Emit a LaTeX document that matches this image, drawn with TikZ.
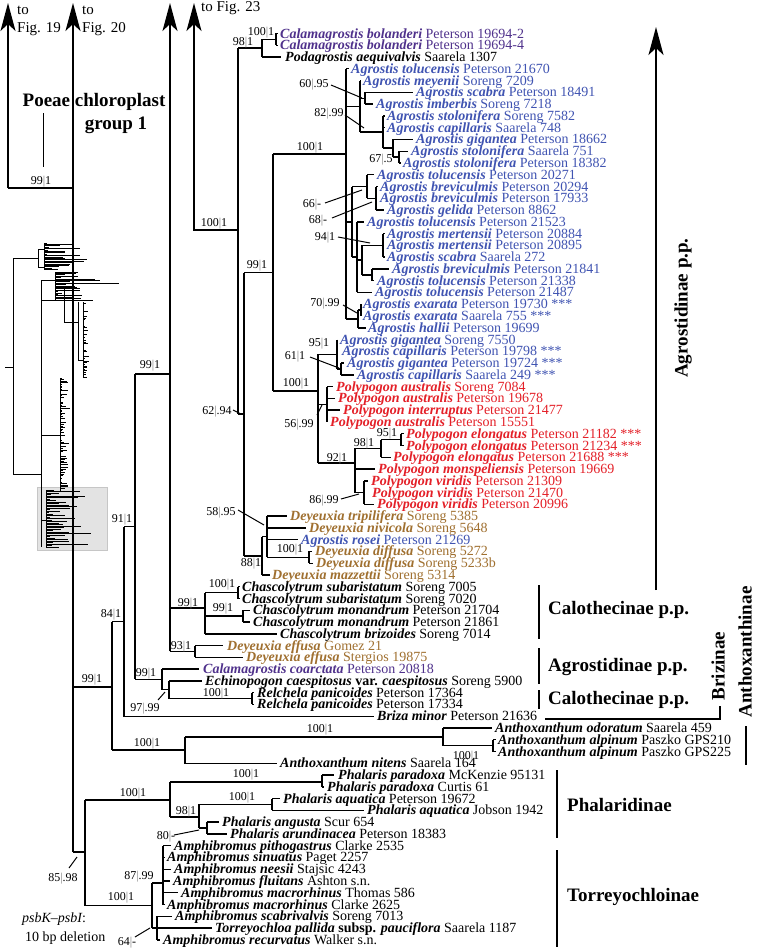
\documentclass[tikz,border=0pt]{standalone}
\usepackage{fontspec}
\setmainfont{Liberation Serif}
\usetikzlibrary{arrows.meta}
\definecolor{agr}{RGB}{64,84,178}
\definecolor{pol}{RGB}{228,32,40}
\definecolor{dey}{RGB}{160,112,48}
\definecolor{cal}{RGB}{80,50,140}
\tikzset{
 br/.style={line width=1.4pt},
 ptr/.style={line width=1pt},
 barline/.style={line width=2pt},
 arr/.style={-{Stealth[length=28pt,width=15pt,inset=7pt]}},
 leaf/.style={anchor=west,inner sep=0pt,text height=10pt,text depth=1pt,font=\fontsize{14}{14}\selectfont},
 sup/.style={inner sep=0pt,text height=8.5pt,text depth=0pt,font=\fontsize{12}{12}\selectfont},
 grp/.style={inner sep=0pt,font=\fontsize{19}{19}\selectfont\bfseries},
 fig/.style={anchor=west,inner sep=0pt,font=\fontsize{15}{15}\selectfont},
 th/.style={line width=0.7pt},
}
\newcommand{\gs}[1]{{\bfseries\itshape #1}}
\newcommand{\sv}[2]{#1\textcolor{gray}{|}#2}
\begin{document}
\begin{tikzpicture}[x=1pt,y=-1pt]
\useasboundingbox (0,0) rectangle (756,950);
\fill[white] (0,0) rectangle (756,950);
% ---------- thumbnail ----------
\fill[gray!22] (37,487) rectangle (107,550);
\draw[gray!45,line width=1pt] (37,487) rectangle (107,550);
\begin{scope}[th]
\pgfmathsetseed{3}
\draw (5,367)--(13,367) (13,258)--(13,474) (13,258)--(38,258) (38,249)--(38,267)
      (38,249)--(44,249) (38,267)--(44,267) (13,474)--(41,474) (41,280)--(41,547) (41,280)--(55,280);
\draw (44,243)--(44,270);
\foreach \y in {243,244.4,...,270}{\pgfmathsetmacro\l{2+44*rnd*rnd}\draw (44,\y)--++(\l,0);}
\draw (55,272)--(55,300) (55,283)--(119,283);
\foreach \y in {272,273.4,...,300}{\pgfmathsetmacro\l{3+50*rnd*rnd}\draw (55,\y)--++(\l,0);}
\draw (41,300)--(64,300) (64,286)--(64,322) (64,322)--(78,322) (78,302)--(78,360) (78,360)--(83,360);
\draw (83,302)--(83,378);
\foreach \y in {302,303.6,...,378}{\pgfmathsetmacro\l{1+12*rnd*rnd*rnd}\draw (83,\y)--++(\l,0);}
\draw (41,435)--(60,435) (60,378)--(60,492);
\foreach \y in {378,379.6,...,492}{\pgfmathsetmacro\l{1+12*rnd*rnd}\draw (60,\y)--++(\l,0);}
\draw (41,520)--(46,520) (46,490)--(46,548);
\foreach \y in {490,491.5,...,548}{\pgfmathsetmacro\l{3+55*rnd*rnd}\draw (46,\y)--++(\l,0);}
\end{scope}
% ---------- top labels ----------
\node[fig] (t19a) at (17,10) {to};
\node[fig] (t19b) at (17,29) {Fig. 19};
\node[fig] (t20a) at (82,10) {to};
\node[fig] (t20b) at (82,29) {Fig. 20};
\node[fig] (t23) at (201,8) {to Fig. 23};
\node[grp] (pc1) at (94,102) {Poeae chloroplast};
\node[grp] (pc2) at (116,125) {group 1};
\draw[ptr] (43,113)--(43,167);
% ---------- backbone ----------
\draw[br,arr] (8,188) -- (8,3);
\draw[br] (8,188) -- (73,188);
\draw[br,arr] (73,852) -- (73,3);
\draw[br] (73,852) -- (85,852);
\draw[br,arr] (170,651.4) -- (170,3);
\draw[br,arr] (238,230) -- (194,230) -- (194,3);
\draw[br,arr] (656,590) -- (656,27);
\draw[br] (135,374)--(170,374) (135,374)--(135,679.4) (124,526.7)--(135,526.7)
  (124,526.7)--(124,716.2)--(374,716.2) (112,621.6)--(124,621.6) (112,621.6)--(112,750)
  (73,686.8)--(112,686.8) (112,750)--(185,750);
% Anthoxanthum
\draw[br] (185,736.8)--(185,763.2)--(277,763.2) (185,736.8)--(443,736.8)
  (443,727.9)--(443,745.6) (443,727.9)--(492,727.9) (443,745.6)--(493,745.6)
  (493,739.7)--(493,751.5) (493,739.7)--(496,739.7) (493,751.5)--(496,751.5);
% Phalaris
\draw[br] (85,800)--(85,905.5) (85,800)--(170,800) (170,781.9)--(170,817)
  (170,781.9)--(322,781.9) (322,775)--(322,786.8) (322,775)--(334,775) (322,786.8)--(324,786.8)
  (170,817)--(199,817) (199,804.4)--(199,828) (199,804.4)--(272,804.4)
  (272,798.6)--(272,810.3) (272,798.6)--(280,798.6) (272,810.3)--(364,810.3)
  (199,828)--(207,828) (207,822.1)--(207,833.9) (207,822.1)--(219,822.1) (207,833.9)--(227,833.9);
% Torreyochloinae
\draw[br] (85,905.5)--(152,905.5) (152,883)--(152,928) (152,883)--(163,883) (163,845.6)--(163,904.5)
  (163,845.6)--(171,845.6) (163,857.4)--(165,857.4) (163,869.2)--(171,869.2) (163,880.9)--(170,880.9)
  (163,892.7)--(178,892.7) (163,904.5)--(165,904.5)
  (152,928)--(157,928) (157,916.3)--(157,939.8) (157,916.3)--(172,916.3) (157,928)--(212,928) (157,939.8)--(160,939.8);
% Chascolytrum etc.
\draw[br] (170,608)--(205,608) (205,592.6)--(205,633.8) (205,592.6)--(238,592.6) (238,586.7)--(238,598.5)
  (238,586.7)--(240,586.7) (238,598.5)--(240,598.5) (205,616.1)--(243,616.1) (243,610.2)--(243,622)
  (243,610.2)--(250,610.2) (243,622)--(250,622) (205,633.8)--(277,633.8)
  (170,651.4)--(195,651.4) (195,645.5)--(195,657.3) (195,645.5)--(223,645.5) (195,657.3)--(243,657.3);
\draw[br] (135,679.4)--(162,679.4) (162,669.1)--(162,689.7) (162,669.1)--(199,669.1) (162,689.7)--(169,689.7)
  (169,680.9)--(169,698.5) (169,680.9)--(202,680.9) (169,698.5)--(252,698.5) (252,692.6)--(252,704.4)
  (252,692.6)--(254,692.6) (252,704.4)--(254,704.4);
% X clade
\draw[br] (238,48.2)--(238,414) (238,48.2)--(262,48.2) (262,39.4)--(262,57) (262,39.4)--(276,39.4)
  (276,33.5)--(276,45.3) (276,33.5)--(278,33.5) (276,45.3)--(278,45.3) (262,57)--(281,57)
  (238,414)--(244,414) (244,272.5)--(244,556) (244,272.5)--(273,272.5) (273,154)--(273,391)
  (273,154)--(346,154) (273,391)--(318,391) (244,556)--(262,556);
% Deyeuxia
\draw[br] (262,536.7)--(262,574.9) (262,536.7)--(267,536.7) (267,516.1)--(267,557.3)
  (267,516.1)--(287,516.1) (267,527.8)--(306,527.8) (267,539.6)--(298,539.6) (267,557.3)--(309,557.3)
  (309,551.4)--(309,563.2) (309,551.4)--(312,551.4) (309,563.2)--(313,563.2) (262,574.9)--(270,574.9);
% Agrostis clade
\draw[br] (346,68.8)--(346,319) (346,68.8)--(349,68.8)
  (346,106.3)--(360,106.3) (360,80.6)--(360,132) (360,80.6)--(361,80.6) (360,98.2)--(365,98.2)
  (365,92.4)--(365,104.1) (365,92.4)--(413,92.4) (365,104.1)--(373,104.1)
  (360,132)--(383,132) (383,115.9)--(383,148.1) (383,115.9)--(385,115.9) (383,127.7)--(385,127.7)
  (383,148.1)--(393,148.1) (393,139.4)--(393,157.1) (393,139.4)--(413,139.4) (393,157.1)--(399,157.1)
  (399,151.2)--(399,163) (399,151.2)--(408,151.2) (399,163)--(401,163);
\draw[br] (346,221.8)--(352,221.8) (352,186.5)--(352,257.1) (352,186.5)--(367,186.5)
  (367,174.7)--(367,198.3) (367,174.7)--(374,174.7) (367,198.3)--(376,198.3)
  (376,186.5)--(376,210) (376,186.5)--(378,186.5) (376,210)--(384,210)
  (352,257.1)--(357,257.1) (357,221.8)--(357,292.4) (357,221.8)--(364,221.8) (357,260.1)--(362,260.1)
  (362,245.4)--(362,274.8) (362,245.4)--(383,245.4) (383,233.6)--(383,257.1) (383,233.6)--(385,233.6)
  (383,257.1)--(385,257.1) (362,274.8)--(372,274.8) (372,268.9)--(372,280.7) (372,268.9)--(389,268.9)
  (372,280.7)--(374,280.7) (357,292.4)--(372,292.4)
  (346,319)--(358,319) (358,310.1)--(358,327.8) (358,310.1)--(361,310.1) (361,304.2)--(361,316)
  (358,327.8)--(366,327.8);
% gigantea/capillaris + Polypogon
\draw[br] (318,354.2)--(318,463) (318,354.2)--(337,354.2) (337,339.5)--(337,369) (337,369)--(341,369)
  (341,363.1)--(341,374.8) (341,363.1)--(344,363.1) (341,374.8)--(354,374.8)
  (318,404.3)--(327,404.3) (327,386.6)--(327,421.9) (327,386.6)--(333,386.6) (327,398.4)--(335,398.4)
  (327,410.1)--(340,410.1)
  (318,463)--(355,463) (355,448.4)--(355,492.5) (355,448.4)--(381,448.4) (381,439.6)--(381,457.2)
  (381,439.6)--(401,439.6) (401,433.7)--(401,445.5) (401,433.7)--(404,433.7) (401,445.5)--(404,445.5)
  (381,457.2)--(391,457.2) (355,469)--(375,469) (355,492.5)--(364,492.5) (364,480.8)--(364,504.3)
  (364,480.8)--(368,480.8) (364,504.3)--(374,504.3);
% ---------- pointers ----------
\draw[ptr] (331,85)--(362,98) (345,115)--(364,128) (325,203)--(362,190) (332,218)--(372,202)
  (338,237)--(370,243) (343,305)--(357,313) (310,357)--(339,368) (317,415)--(322,405)
  (233,410)--(241,414) (341,499)--(359,494) (238,510)--(264,525) (158,700)--(165,692)
  (174,835)--(199,830) (69,868)--(77,857) (135,937)--(150,928);
% ---------- support values ----------
\node[sup] (s1) at (41,180) {\sv{99}{1}};
\node[sup] (s2) at (243,41) {\sv{98}{1}};
\node[sup] (s3) at (261,31) {\sv{100}{1}};
\node[sup] (s4) at (314,83) {\sv{60}{.95}};
\node[sup] (s5) at (329,112) {\sv{82}{.99}};
\node[sup] (s6) at (310,146) {\sv{100}{1}};
\node[sup] (s7) at (381,158) {\sv{67}{.5}};
\node[sup] (s8) at (214,222) {\sv{100}{1}};
\node[sup] (s9) at (312,203) {\sv{66}{-}};
\node[sup] (s10) at (318,219) {\sv{68}{-}};
\node[sup] (s11) at (325,236) {\sv{94}{1}};
\node[sup] (s12) at (257,264) {\sv{99}{1}};
\node[sup] (s13) at (325,302) {\sv{70}{.99}};
\node[sup] (s14) at (319,342) {\sv{95}{1}};
\node[sup] (s15) at (295,355) {\sv{61}{1}};
\node[sup] (s16) at (150,364) {\sv{99}{1}};
\node[sup] (s17) at (296,382) {\sv{100}{1}};
\node[sup] (s18) at (217,410) {\sv{62}{.94}};
\node[sup] (s19) at (299,423) {\sv{56}{.99}};
\node[sup] (s20) at (387,432) {\sv{95}{1}};
\node[sup] (s21) at (364,442) {\sv{98}{1}};
\node[sup] (s22) at (337,457) {\sv{92}{1}};
\node[sup] (s23) at (324,499) {\sv{86}{.99}};
\node[sup] (s24) at (221,511) {\sv{58}{.95}};
\node[sup] (s25) at (122,518) {\sv{91}{1}};
\node[sup] (s26) at (290,548) {\sv{100}{1}};
\node[sup] (s27) at (251,562) {\sv{88}{1}};
\node[sup] (s28) at (222,583) {\sv{100}{1}};
\node[sup] (s29) at (188,602) {\sv{99}{1}};
\node[sup] (s30) at (223,607) {\sv{99}{1}};
\node[sup] (s31) at (111,613) {\sv{84}{1}};
\node[sup] (s32) at (181,645) {\sv{93}{1}};
\node[sup] (s33) at (146,672) {\sv{99}{1}};
\node[sup] (s34) at (92,678) {\sv{99}{1}};
\node[sup] (s35) at (216,692) {\sv{100}{1}};
\node[sup] (s36) at (145,707) {\sv{97}{.99}};
\node[sup] (s37) at (320,728) {\sv{100}{1}};
\node[sup] (s38) at (147,742) {\sv{100}{1}};
\node[sup] (s39) at (466,755) {\sv{100}{1}};
\node[sup] (s40) at (246,773) {\sv{100}{1}};
\node[sup] (s41) at (133,792) {\sv{100}{1}};
\node[sup] (s42) at (242,796) {\sv{100}{1}};
\node[sup] (s43) at (186,810) {\sv{98}{1}};
\node[sup] (s44) at (166,835) {\sv{80}{-}};
\node[sup] (s45) at (63,877) {\sv{85}{.98}};
\node[sup] (s46) at (139,875) {\sv{87}{.99}};
\node[sup] (s47) at (121,896) {\sv{100}{1}};
\node[sup] (s48) at (127,941) {\sv{64}{-}};
% ---------- leaves ----------
\node[leaf,text=cal] (l0) at (280,33.5) {\gs{Calamagrostis bolanderi} Peterson 19694-2};
\node[leaf,text=cal] (l1) at (280,45.3) {\gs{Calamagrostis bolanderi} Peterson 19694-4};
\node[leaf] (l2) at (285,57) {\gs{Podagrostis aequivalvis} Saarela 1307};
\node[leaf,text=agr] (l3) at (351,68.8) {\gs{Agrostis tolucensis} Peterson 21670};
\node[leaf,text=agr] (l4) at (363,80.6) {\gs{Agrostis meyenii} Soreng 7209};
\node[leaf,text=agr] (l5) at (416,92.4) {\gs{Agrostis scabra} Peterson 18491};
\node[leaf,text=agr] (l6) at (376,104.1) {\gs{Agrostis imberbis} Soreng 7218};
\node[leaf,text=agr] (l7) at (387,115.9) {\gs{Agrostis stolonifera} Soreng 7582};
\node[leaf,text=agr] (l8) at (387,127.7) {\gs{Agrostis capillaris} Saarela 748};
\node[leaf,text=agr] (l9) at (416,139.4) {\gs{Agrostis gigantea} Peterson 18662};
\node[leaf,text=agr] (l10) at (411,151.2) {\gs{Agrostis stolonifera} Saarela 751};
\node[leaf,text=agr] (l11) at (403,163) {\gs{Agrostis stolonifera} Peterson 18382};
\node[leaf,text=agr] (l12) at (377,174.7) {\gs{Agrostis tolucensis} Peterson 20271};
\node[leaf,text=agr] (l13) at (380,186.5) {\gs{Agrostis breviculmis} Peterson 20294};
\node[leaf,text=agr] (l14) at (380,198.3) {\gs{Agrostis breviculmis} Peterson 17933};
\node[leaf,text=agr] (l15) at (387,210) {\gs{Agrostis gelida} Peterson 8862};
\node[leaf,text=agr] (l16) at (367,221.8) {\gs{Agrostis tolucensis} Peterson 21523};
\node[leaf,text=agr] (l17) at (387,233.6) {\gs{Agrostis mertensii} Peterson 20884};
\node[leaf,text=agr] (l18) at (387,245.4) {\gs{Agrostis mertensii} Peterson 20895};
\node[leaf,text=agr] (l19) at (387,257.1) {\gs{Agrostis scabra} Saarela 272};
\node[leaf,text=agr] (l20) at (392,268.9) {\gs{Agrostis breviculmis} Peterson 21841};
\node[leaf,text=agr] (l21) at (377,280.7) {\gs{Agrostis tolucensis} Peterson 21338};
\node[leaf,text=agr] (l22) at (375,292.4) {\gs{Agrostis tolucensis} Peterson 21487};
\node[leaf,text=agr] (l23) at (363,304.2) {\gs{Agrostis exarata} Peterson 19730 ***};
\node[leaf,text=agr] (l24) at (363,316) {\gs{Agrostis exarata} Saarela 755 ***};
\node[leaf,text=agr] (l25) at (368,327.8) {\gs{Agrostis hallii} Peterson 19699};
\node[leaf,text=agr] (l26) at (340,339.5) {\gs{Agrostis gigantea} Soreng 7550};
\node[leaf,text=agr] (l27) at (342,351.3) {\gs{Agrostis capillaris} Peterson 19798 ***};
\node[leaf,text=agr] (l28) at (347,363.1) {\gs{Agrostis gigantea} Peterson 19724 ***};
\node[leaf,text=agr] (l29) at (357,374.8) {\gs{Agrostis capillaris} Saarela 249 ***};
\node[leaf,text=pol] (l30) at (336,386.6) {\gs{Polypogon australis} Soreng 7084};
\node[leaf,text=pol] (l31) at (338,398.4) {\gs{Polypogon australis} Peterson 19678};
\node[leaf,text=pol] (l32) at (343,410.1) {\gs{Polypogon interruptus} Peterson 21477};
\node[leaf,text=pol] (l33) at (330,421.9) {\gs{Polypogon australis} Peterson 15551};
\node[leaf,text=pol] (l34) at (406,433.7) {\gs{Polypogon elongatus} Peterson 21182 ***};
\node[leaf,text=pol] (l35) at (406,445.5) {\gs{Polypogon elongatus} Peterson 21234 ***};
\node[leaf,text=pol] (l36) at (393,457.2) {\gs{Polypogon elongatus} Peterson 21688 ***};
\node[leaf,text=pol] (l37) at (378,469) {\gs{Polypogon monspeliensis} Peterson 19669};
\node[leaf,text=pol] (l38) at (371,480.8) {\gs{Polypogon viridis} Peterson 21309};
\node[leaf,text=pol] (l39) at (372,492.5) {\gs{Polypogon viridis} Peterson 21470};
\node[leaf,text=pol] (l40) at (377,504.3) {\gs{Polypogon viridis} Peterson 20996};
\node[leaf,text=dey] (l41) at (290,516.1) {\gs{Deyeuxia tripilifera} Soreng 5385};
\node[leaf,text=dey] (l42) at (309,527.8) {\gs{Deyeuxia nivicola} Soreng 5648};
\node[leaf,text=agr] (l43) at (301,539.6) {\gs{Agrostis rosei} Peterson 21269};
\node[leaf,text=dey] (l44) at (315,551.4) {\gs{Deyeuxia diffusa} Soreng 5272};
\node[leaf,text=dey] (l45) at (316,563.2) {\gs{Deyeuxia diffusa} Soreng 5233b};
\node[leaf,text=dey] (l46) at (272,574.9) {\gs{Deyeuxia mazzettii} Soreng 5314};
\node[leaf] (l47) at (242,586.7) {\gs{Chascolytrum subaristatum} Soreng 7005};
\node[leaf] (l48) at (242,598.5) {\gs{Chascolytrum subaristatum} Soreng 7020};
\node[leaf] (l49) at (253,610.2) {\gs{Chascolytrum monandrum} Peterson 21704};
\node[leaf] (l50) at (253,622) {\gs{Chascolytrum monandrum} Peterson 21861};
\node[leaf] (l51) at (280,633.8) {\gs{Chascolytrum brizoides} Soreng 7014};
\node[leaf,text=dey] (l52) at (227,645.5) {\gs{Deyeuxia effusa} Gomez 21};
\node[leaf,text=dey] (l53) at (246,657.3) {\gs{Deyeuxia effusa} Stergios 19875};
\node[leaf,text=cal] (l54) at (203,669.1) {\gs{Calamagrostis coarctata} Peterson 20818};
\node[leaf] (l55) at (205,680.9) {\gs{Echinopogon caespitosus} {\bfseries var.} \gs{caespitosus} Soreng 5900};
\node[leaf] (l56) at (257,692.6) {\gs{Relchela panicoides} Peterson 17364};
\node[leaf] (l57) at (257,704.4) {\gs{Relchela panicoides} Peterson 17334};
\node[leaf] (l58) at (377,716.2) {\gs{Briza minor} Peterson 21636};
\node[leaf] (l59) at (495,727.9) {\gs{Anthoxanthum odoratum} Saarela 459};
\node[leaf] (l60) at (498,739.7) {\gs{Anthoxanthum alpinum} Paszko GPS210};
\node[leaf] (l61) at (498,751.5) {\gs{Anthoxanthum alpinum} Paszko GPS225};
\node[leaf] (l62) at (280,763.2) {\gs{Anthoxanthum nitens} Saarela 164};
\node[leaf] (l63) at (338,775) {\gs{Phalaris paradoxa} McKenzie 95131};
\node[leaf] (l64) at (327,786.8) {\gs{Phalaris paradoxa} Curtis 61};
\node[leaf] (l65) at (283,798.6) {\gs{Phalaris aquatica} Peterson 19672};
\node[leaf] (l66) at (367,810.3) {\gs{Phalaris aquatica} Jobson 1942};
\node[leaf] (l67) at (222,822.1) {\gs{Phalaris angusta} Scur 654};
\node[leaf] (l68) at (230,833.9) {\gs{Phalaris arundinacea} Peterson 18383};
\node[leaf] (l69) at (174,845.6) {\gs{Amphibromus pithogastrus} Clarke 2535};
\node[leaf] (l70) at (167,857.4) {\gs{Amphibromus sinuatus} Paget 2257};
\node[leaf] (l71) at (174,869.2) {\gs{Amphibromus neesii} Stajsic 4243};
\node[leaf] (l72) at (173,880.9) {\gs{Amphibromus fluitans} Ashton s.n.};
\node[leaf] (l73) at (181,892.7) {\gs{Amphibromus macrorhinus} Thomas 586};
\node[leaf] (l74) at (167,904.5) {\gs{Amphibromus macrorhinus} Clarke 2625};
\node[leaf] (l75) at (175,916.3) {\gs{Amphibromus scabrivalvis} Soreng 7013};
\node[leaf] (l76) at (215,928) {\gs{Torreyochloa pallida} {\bfseries subsp.} \gs{pauciflora} Saarela 1187};
\node[leaf] (l77) at (163,939.8) {\gs{Amphibromus recurvatus} Walker s.n.};
% ---------- group labels ----------
\node[grp,rotate=90] (gA) at (683,308) {Agrostidinae p.p.};
\draw[barline] (539,585)--(539,639) (539,648)--(539,684) (539,690)--(539,709);
\node[grp,anchor=west] (gC1) at (548,610) {Calothecinae p.p.};
\node[grp,anchor=west] (gA2) at (548,667) {Agrostidinae p.p.};
\node[grp,anchor=west] (gC2) at (548,700) {Calothecinae p.p.};
\draw[barline] (545,719)--(720,719)--(720,706);
\node[grp,rotate=90] (gB) at (718,666) {Brizinae};
\node[grp,rotate=90] (gAn) at (745,652) {Anthoxanthinae};
\draw[barline] (746,726)--(746,765);
\draw[barline] (557,770)--(557,838) (557,850)--(557,947);
\node[grp,anchor=west] (gP) at (567,805) {Phalaridinae};
\node[grp,anchor=west] (gT) at (567,897) {Torreyochloinae};
\node[leaf] (ps1) at (22,918) {\itshape psbK–psbI\upshape:};
\node[leaf] (ps2) at (25,937) {10 bp deletion};
\end{tikzpicture}
\end{document}
